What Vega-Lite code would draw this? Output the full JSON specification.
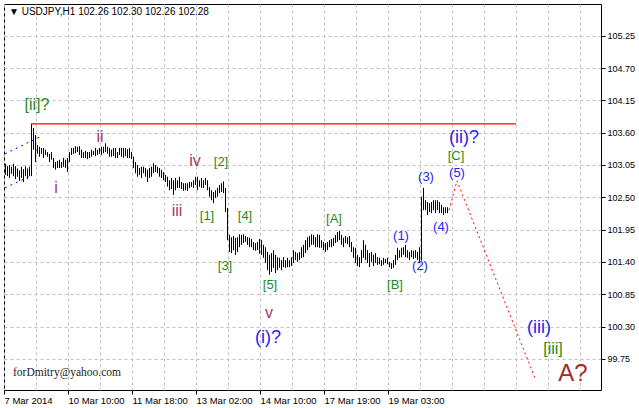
{
  "$schema": "https://vega.github.io/schema/vega-lite/v6.json",
  "width": 597,
  "height": 386,
  "autosize": {"type": "none"},
  "padding": {"left": 4, "top": 4, "right": 38, "bottom": 18},
  "background": "white",
  "config": {"view": {"stroke": "#000", "strokeWidth": 1}, "font": "Liberation Sans"},
  "title": {"text": "▼  USDJPY,H1  102.26 102.30 102.26 102.28", "anchor": "start", "frame": "group", "offset": -11, "dx": 5, "dy": 10, "fontSize": 10, "fontWeight": "normal", "font": "Liberation Sans", "color": "#000", "baseline": "alphabetic"},
  "datasets": {
    "bars": [
      {"n":0,"p":103.07,"l":102.88},{"n":1,"p":103.03,"l":102.86},{"n":2,"p":103.05,"l":102.83},{"n":3,"p":103.02,"l":102.90},
      {"n":4,"p":103.07,"l":102.86},{"n":5,"p":103.03,"l":102.81},{"n":6,"p":102.99,"l":102.85},{"n":7,"p":102.96,"l":102.78},
      {"n":8,"p":103.02,"l":102.83},{"n":9,"p":102.98,"l":102.76},{"n":10,"p":103.03,"l":102.86},{"n":11,"p":102.99,"l":102.81},
      {"n":12,"p":103.02,"l":102.86},{"n":13,"p":103.75,"l":102.86},{"n":14,"p":103.68,"l":103.31},{"n":15,"p":103.56,"l":103.10},
      {"n":16,"p":103.39,"l":103.24},{"n":17,"p":103.36,"l":103.19},{"n":18,"p":103.34,"l":103.24},{"n":19,"p":103.34,"l":103.17},
      {"n":20,"p":103.31,"l":103.22},{"n":21,"p":103.27,"l":103.19},{"n":22,"p":103.24,"l":103.10},{"n":23,"p":103.27,"l":103.14},
      {"n":24,"p":103.17,"l":103.00},{"n":25,"p":103.10,"l":102.97},{"n":26,"p":103.12,"l":103.00},{"n":27,"p":103.14,"l":103.00},
      {"n":28,"p":103.10,"l":103.00},{"n":29,"p":103.17,"l":103.02},{"n":30,"p":103.14,"l":103.00},{"n":31,"p":103.17,"l":102.93},
      {"n":32,"p":103.27,"l":103.10},{"n":33,"p":103.34,"l":103.22},{"n":34,"p":103.34,"l":103.24},{"n":35,"p":103.37,"l":103.25},
      {"n":36,"p":103.36,"l":103.27},{"n":37,"p":103.37,"l":103.22},{"n":38,"p":103.31,"l":103.17},{"n":39,"p":103.27,"l":103.17},
      {"n":40,"p":103.29,"l":103.17},{"n":41,"p":103.27,"l":103.15},{"n":42,"p":103.27,"l":103.17},{"n":43,"p":103.31,"l":103.19},
      {"n":44,"p":103.29,"l":103.22},{"n":45,"p":103.34,"l":103.20},{"n":46,"p":103.31,"l":103.22},{"n":47,"p":103.34,"l":103.24},
      {"n":48,"p":103.36,"l":103.22},{"n":49,"p":103.36,"l":103.25},{"n":50,"p":103.42,"l":103.27},{"n":51,"p":103.36,"l":103.24},
      {"n":52,"p":103.34,"l":103.19},{"n":53,"p":103.31,"l":103.19},{"n":54,"p":103.34,"l":103.20},{"n":55,"p":103.34,"l":103.17},
      {"n":56,"p":103.27,"l":103.17},{"n":57,"p":103.34,"l":103.22},{"n":58,"p":103.34,"l":103.19},{"n":59,"p":103.34,"l":103.17},
      {"n":60,"p":103.34,"l":103.20},{"n":61,"p":103.32,"l":103.17},{"n":62,"p":103.34,"l":103.17},{"n":63,"p":103.27,"l":103.15},
      {"n":64,"p":103.19,"l":103.00},{"n":65,"p":103.10,"l":102.91},{"n":66,"p":103.05,"l":102.85},{"n":67,"p":103.00,"l":102.88},
      {"n":68,"p":103.02,"l":102.83},{"n":69,"p":103.02,"l":102.91},{"n":70,"p":103.00,"l":102.85},{"n":71,"p":102.97,"l":102.76},
      {"n":72,"p":103.00,"l":102.83},{"n":73,"p":103.02,"l":102.85},{"n":74,"p":103.08,"l":102.91},{"n":75,"p":103.05,"l":102.93},
      {"n":76,"p":103.02,"l":102.91},{"n":77,"p":103.00,"l":102.85},{"n":78,"p":102.97,"l":102.83},{"n":79,"p":102.93,"l":102.79},
      {"n":80,"p":102.88,"l":102.76},{"n":81,"p":102.85,"l":102.68},{"n":82,"p":102.79,"l":102.62},{"n":83,"p":102.83,"l":102.64},
      {"n":84,"p":102.79,"l":102.54},{"n":85,"p":102.83,"l":102.62},{"n":86,"p":102.79,"l":102.66},{"n":87,"p":102.85,"l":102.66},
      {"n":88,"p":102.76,"l":102.64},{"n":89,"p":102.74,"l":102.61},{"n":90,"p":102.74,"l":102.62},{"n":91,"p":102.74,"l":102.61},
      {"n":92,"p":102.76,"l":102.66},{"n":93,"p":102.76,"l":102.68},{"n":94,"p":102.79,"l":102.66},{"n":95,"p":102.85,"l":102.71},
      {"n":96,"p":102.85,"l":102.62},{"n":97,"p":102.79,"l":102.68},{"n":98,"p":102.83,"l":102.66},{"n":99,"p":102.79,"l":102.66},
      {"n":100,"p":102.83,"l":102.71},{"n":101,"p":102.79,"l":102.62},{"n":102,"p":102.67,"l":102.51},{"n":103,"p":102.62,"l":102.45},
      {"n":104,"p":102.59,"l":102.40},{"n":105,"p":102.62,"l":102.49},{"n":106,"p":102.66,"l":102.51},{"n":107,"p":102.71,"l":102.57},
      {"n":108,"p":102.74,"l":102.59},{"n":109,"p":102.77,"l":102.57},{"n":110,"p":102.66,"l":102.25},{"n":111,"p":102.32,"l":101.77},
      {"n":112,"p":101.86,"l":101.57},{"n":113,"p":101.82,"l":101.55},{"n":114,"p":101.84,"l":101.60},{"n":115,"p":101.81,"l":101.52},
      {"n":116,"p":101.82,"l":101.57},{"n":117,"p":101.87,"l":101.65},{"n":118,"p":101.86,"l":101.69},{"n":119,"p":101.87,"l":101.72},
      {"n":120,"p":101.84,"l":101.74},{"n":121,"p":101.82,"l":101.69},{"n":122,"p":101.81,"l":101.65},{"n":123,"p":101.79,"l":101.65},
      {"n":124,"p":101.74,"l":101.60},{"n":125,"p":101.72,"l":101.59},{"n":126,"p":101.74,"l":101.60},{"n":127,"p":101.79,"l":101.54},
      {"n":128,"p":101.77,"l":101.52},{"n":129,"p":101.69,"l":101.47},{"n":130,"p":101.65,"l":101.38},{"n":131,"p":101.57,"l":101.26},
      {"n":132,"p":101.52,"l":101.18},{"n":133,"p":101.55,"l":101.23},{"n":134,"p":101.60,"l":101.30},{"n":135,"p":101.52,"l":101.21},
      {"n":136,"p":101.48,"l":101.26},{"n":137,"p":101.47,"l":101.30},{"n":138,"p":101.43,"l":101.26},{"n":139,"p":101.48,"l":101.31},
      {"n":140,"p":101.43,"l":101.30},{"n":141,"p":101.47,"l":101.31},{"n":142,"p":101.43,"l":101.31},{"n":143,"p":101.48,"l":101.33},
      {"n":144,"p":101.60,"l":101.38},{"n":145,"p":101.57,"l":101.43},{"n":146,"p":101.55,"l":101.40},{"n":147,"p":101.57,"l":101.43},
      {"n":148,"p":101.65,"l":101.47},{"n":149,"p":101.69,"l":101.48},{"n":150,"p":101.77,"l":101.55},{"n":151,"p":101.82,"l":101.60},
      {"n":152,"p":101.84,"l":101.65},{"n":153,"p":101.87,"l":101.69},{"n":154,"p":101.86,"l":101.69},{"n":155,"p":101.82,"l":101.65},
      {"n":156,"p":101.87,"l":101.65},{"n":157,"p":101.86,"l":101.64},{"n":158,"p":101.77,"l":101.64},{"n":159,"p":101.74,"l":101.60},
      {"n":160,"p":101.72,"l":101.57},{"n":161,"p":101.74,"l":101.60},{"n":162,"p":101.77,"l":101.65},{"n":163,"p":101.79,"l":101.65},
      {"n":164,"p":101.81,"l":101.67},{"n":165,"p":101.86,"l":101.72},{"n":166,"p":101.91,"l":101.74},{"n":167,"p":101.93,"l":101.77},
      {"n":168,"p":101.86,"l":101.69},{"n":169,"p":101.81,"l":101.65},{"n":170,"p":101.84,"l":101.72},{"n":171,"p":101.82,"l":101.70},
      {"n":172,"p":101.84,"l":101.65},{"n":173,"p":101.74,"l":101.57},{"n":174,"p":101.65,"l":101.47},{"n":175,"p":101.64,"l":101.38},
      {"n":176,"p":101.52,"l":101.33},{"n":177,"p":101.48,"l":101.31},{"n":178,"p":101.60,"l":101.38},{"n":179,"p":101.77,"l":101.47},
      {"n":180,"p":101.69,"l":101.43},{"n":181,"p":101.60,"l":101.38},{"n":182,"p":101.55,"l":101.31},{"n":183,"p":101.57,"l":101.40},
      {"n":184,"p":101.52,"l":101.33},{"n":185,"p":101.55,"l":101.38},{"n":186,"p":101.48,"l":101.35},{"n":187,"p":101.47,"l":101.36},
      {"n":188,"p":101.43,"l":101.33},{"n":189,"p":101.47,"l":101.35},{"n":190,"p":101.45,"l":101.38},{"n":191,"p":101.47,"l":101.36},
      {"n":192,"p":101.40,"l":101.31},{"n":193,"p":101.38,"l":101.28},{"n":194,"p":101.43,"l":101.30},{"n":195,"p":101.52,"l":101.35},
      {"n":196,"p":101.64,"l":101.43},{"n":197,"p":101.60,"l":101.47},{"n":198,"p":101.64,"l":101.48},{"n":199,"p":101.65,"l":101.52},
      {"n":200,"p":101.69,"l":101.48},{"n":201,"p":101.60,"l":101.47},{"n":202,"p":101.57,"l":101.43},{"n":203,"p":101.60,"l":101.48},
      {"n":204,"p":101.59,"l":101.45},{"n":205,"p":101.60,"l":101.47},{"n":206,"p":101.57,"l":101.43},{"n":207,"p":101.65,"l":101.38},
      {"n":208,"p":102.51,"l":101.42},{"n":209,"p":102.66,"l":102.28},{"n":210,"p":102.45,"l":102.28},{"n":211,"p":102.42,"l":102.20},
      {"n":212,"p":102.40,"l":102.25},{"n":213,"p":102.42,"l":102.23},{"n":214,"p":102.45,"l":102.28},{"n":215,"p":102.45,"l":102.23},
      {"n":216,"p":102.45,"l":102.28},{"n":217,"p":102.42,"l":102.23},{"n":218,"p":102.37,"l":102.23},{"n":219,"p":102.33,"l":102.20},
      {"n":220,"p":102.33,"l":102.23},{"n":221,"p":102.33,"l":102.23}
    ],
    "labels": [
      {"n":16,"p":104.07,"t":"[ii]?","k":"gl"},
      {"n":25.5,"p":102.66,"t":"i","k":"r"},
      {"n":47.5,"p":103.53,"t":"ii","k":"r"},
      {"n":86,"p":102.27,"t":"iii","k":"r"},
      {"n":95,"p":103.12,"t":"iv","k":"r"},
      {"n":132,"p":100.53,"t":"v","k":"r"},
      {"n":101,"p":102.18,"t":"[1]","k":"gs"},
      {"n":108,"p":103.10,"t":"[2]","k":"gs"},
      {"n":110,"p":101.33,"t":"[3]","k":"gs"},
      {"n":120,"p":102.18,"t":"[4]","k":"gs"},
      {"n":132.5,"p":101.01,"t":"[5]","k":"gs"},
      {"n":164.5,"p":102.13,"t":"[A]","k":"gs"},
      {"n":195,"p":101.01,"t":"[B]","k":"gs"},
      {"n":225.5,"p":103.20,"t":"[C]","k":"gs"},
      {"n":274,"p":99.92,"t":"[iii]","k":"gl"},
      {"n":198,"p":101.84,"t":"(1)","k":"bs"},
      {"n":207.5,"p":101.33,"t":"(2)","k":"bs"},
      {"n":210.5,"p":102.85,"t":"(3)","k":"bs"},
      {"n":218,"p":101.99,"t":"(4)","k":"bs"},
      {"n":226,"p":102.91,"t":"(5)","k":"bs"},
      {"n":131.5,"p":100.10,"t":"(i)?","k":"bl"},
      {"n":229.5,"p":103.51,"t":"(ii)?","k":"bl"},
      {"n":267,"p":100.27,"t":"(iii)","k":"bl"},
      {"n":284,"p":99.49,"t":"A?","k":"a"}
    ],
    "channel": [
      {"g":"upper","n":0,"p":103.24},{"g":"upper","n":17.5,"p":103.53},
      {"g":"lower","n":0,"p":102.66},{"g":"lower","n":12.5,"p":102.86}
    ],
    "projection": [
      {"n":222,"p":102.28},{"n":226,"p":102.78},{"n":265,"p":99.42}
    ],
    "resistance": [
      {"n":13,"n2":255.5,"p":103.75}
    ],
    "note": [
      {"n":4,"p":99.5,"t":"forDmitry@yahoo.com"}
    ]
  },
  "encoding": {
    "x": {
      "field": "n", "type": "quantitative",
      "scale": {"domain": [-0.5, 298], "nice": false, "zero": false},
      "axis": {
        "title": null, "orient": "bottom",
        "values": [-0.5,15.5,31.5,47.5,63.5,79.5,95.5,111.5,127.5,143.5,159.5,175.5,191.5,207.5,223.5,239.5,255.5,271.5,287.5],
        "labelExpr": "datum.value==-0.5?'7 Mar 2014':datum.value==31.5?'10 Mar 10:00':datum.value==63.5?'11 Mar 18:00':datum.value==95.5?'13 Mar 02:00':datum.value==127.5?'14 Mar 10:00':datum.value==159.5?'17 Mar 19:00':datum.value==191.5?'19 Mar 03:00':''",
        "labelAlign": "left", "labelBaseline": "top", "labelPadding": 1, "labelFontSize": 9.5, "labelColor": "#000", "labelFont": "Liberation Sans",
        "labelOverlap": false, "labelFlush": false, "labelBound": false,
        "tickSize": 4, "tickColor": "#000",
        "tickOpacity": {"condition": {"test": "datum.value <= 192 && (datum.value + 0.5) % 32 == 0", "value": 1}, "value": 0},
        "grid": true, "gridColor": "#c0c0c0", "gridDash": [3, 3], "domain": false
      }
    },
    "y": {
      "field": "p", "type": "quantitative",
      "scale": {"domain": [99.219, 105.791], "nice": false, "zero": false},
      "axis": {
        "title": null, "orient": "right",
        "values": [99.75,100.3,100.85,101.4,101.95,102.5,103.05,103.6,104.15,104.7,105.25],
        "format": ".2f", "tickSize": 4, "tickColor": "#000", "labelPadding": 2, "labelFontSize": 9, "labelColor": "#000", "labelFont": "Liberation Sans",
        "labelBaseline": "middle", "labelOverlap": false,
        "grid": true, "gridColor": "#c0c0c0", "gridDash": [3, 3], "domain": false
      }
    }
  },
  "layer": [
    {"data": {"name": "bars"}, "mark": {"type": "rule", "color": "#000", "strokeWidth": 1, "xOffset": 0.5}, "encoding": {"y2": {"field": "l"}}},
    {"data": {"name": "resistance"}, "mark": {"type": "rule", "color": "#ff0000", "strokeWidth": 1.2}, "encoding": {"x2": {"field": "n2"}}},
    {"data": {"name": "channel"}, "mark": {"type": "line", "color": "#0000ff", "strokeWidth": 1, "strokeDash": [2, 4]}, "encoding": {"detail": {"field": "g"}}},
    {"data": {"name": "projection"}, "mark": {"type": "line", "color": "#ff0000", "strokeWidth": 1, "strokeDash": [2, 3]}, "encoding": {}},
    {"data": {"name": "labels"}, "transform": [{"filter": "datum.k == 'bs'"}], "mark": {"type": "text", "align": "center", "baseline": "middle", "fontSize": 13, "color": "#2525ee", "font": "Liberation Sans"}, "encoding": {"text": {"field": "t"}}},
    {"data": {"name": "labels"}, "transform": [{"filter": "datum.k == 'bl'"}], "mark": {"type": "text", "align": "center", "baseline": "middle", "fontSize": 18, "color": "#2525ee", "font": "Liberation Sans"}, "encoding": {"text": {"field": "t"}}},
    {"data": {"name": "labels"}, "transform": [{"filter": "datum.k == 'gs'"}], "mark": {"type": "text", "align": "center", "baseline": "middle", "fontSize": 13, "color": "#1e8a1e", "font": "Liberation Sans"}, "encoding": {"text": {"field": "t"}}},
    {"data": {"name": "labels"}, "transform": [{"filter": "datum.k == 'gl'"}], "mark": {"type": "text", "align": "center", "baseline": "middle", "fontSize": 16, "color": "#1e8a1e", "font": "Liberation Sans"}, "encoding": {"text": {"field": "t"}}},
    {"data": {"name": "labels"}, "transform": [{"filter": "datum.k == 'r'"}], "mark": {"type": "text", "align": "center", "baseline": "middle", "fontSize": 16, "color": "#9c3a66", "font": "Liberation Sans"}, "encoding": {"text": {"field": "t"}}},
    {"data": {"name": "labels"}, "transform": [{"filter": "datum.k == 'a'"}], "mark": {"type": "text", "align": "center", "baseline": "middle", "fontSize": 24, "color": "#a52a2a", "font": "Liberation Sans"}, "encoding": {"text": {"field": "t"}}},
    {"data": {"name": "note"}, "mark": {"type": "text", "align": "left", "baseline": "middle", "fontSize": 11.5, "color": "#1b1b1b", "font": "Liberation Serif"}, "encoding": {"text": {"field": "t"}}}
  ]
}
